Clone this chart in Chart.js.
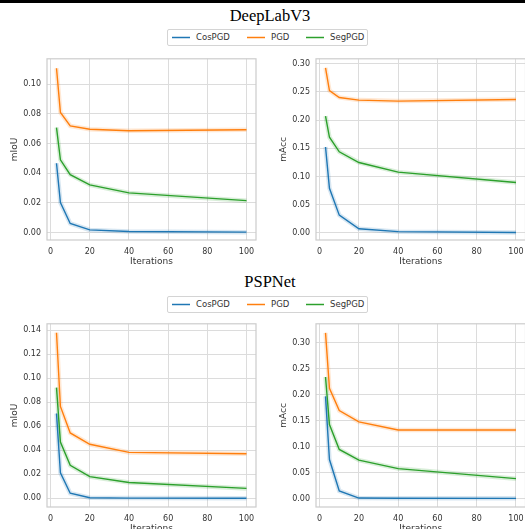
<!DOCTYPE html>
<html>
<head>
<meta charset="utf-8">
<script src="https://cdn.jsdelivr.net/npm/chart.js@4"></script>
<style>
  html, body { margin: 0; padding: 0; background: #fff; }
  body { width: 525px; height: 529px; overflow: hidden; position: relative; font-family: "DejaVu Sans", sans-serif; }
  canvas { position: absolute; }
  .rule { position: absolute; left: 0; top: 0; width: 525px; height: 3px; background: #000; }
  .title { position: absolute; left: 170px; width: 200px; text-align: center; font-family: "Liberation Serif", serif; font-size: 16.5px; color: #000; line-height: 20px; }
  .legend { position: absolute; left: 167px; width: 199px; height: 15px; border: 1px solid #d4d4d4; border-radius: 2px; background: #fff; }
  .leg-text { position: absolute; top: 0; font-size: 8.5px; line-height: 15px; color: #333; }
  .legend svg { position: absolute; left: 0; top: 0; }
</style>
</head>
<body>
<div class="rule"></div>

<div class="title" style="top:6px">DeepLabV3</div>
<div class="legend" style="top:29px">
  <svg width="199" height="15">
    <line x1="4" y1="7.5" x2="22" y2="7.5" stroke="#1f77b4" stroke-width="1.5"/>
    <line x1="79" y1="7.5" x2="97" y2="7.5" stroke="#ff7f0e" stroke-width="1.5"/>
    <line x1="138" y1="7.5" x2="156" y2="7.5" stroke="#2ca02c" stroke-width="1.5"/>
  </svg>
  <div class="leg-text" style="left:28px">CosPGD</div>
  <div class="leg-text" style="left:103px">PGD</div>
  <div class="leg-text" style="left:162px">SegPGD</div>
</div>

<div class="title" style="top:272px">PSPNet</div>
<div class="legend" style="top:296px">
  <svg width="199" height="15">
    <line x1="4" y1="7.5" x2="22" y2="7.5" stroke="#1f77b4" stroke-width="1.5"/>
    <line x1="79" y1="7.5" x2="97" y2="7.5" stroke="#ff7f0e" stroke-width="1.5"/>
    <line x1="138" y1="7.5" x2="156" y2="7.5" stroke="#2ca02c" stroke-width="1.5"/>
  </svg>
  <div class="leg-text" style="left:28px">CosPGD</div>
  <div class="leg-text" style="left:103px">PGD</div>
  <div class="leg-text" style="left:162px">SegPGD</div>
</div>

<canvas id="dlMiou" width="262" height="222" style="left:0;top:48px"></canvas>
<canvas id="dlMacc" width="270" height="222" style="left:262px;top:48px"></canvas>
<canvas id="pspMiou" width="262" height="224" style="left:0;top:313px"></canvas>
<canvas id="pspMacc" width="270" height="224" style="left:262px;top:313px"></canvas>

<script>
// attack iterations (x values)
const iterations = [3, 5, 10, 20, 40, 100];
const xTicks = [0, 20, 40, 60, 80, 100];

// DeepLabV3
const dlMiouCos = [0.0467, 0.0202, 0.0061, 0.0018, 0.0007, 0.0003];
const dlMiouPgd = [0.1106, 0.0809, 0.0718, 0.0696, 0.0686, 0.0692];
const dlMiouSeg = [0.0707, 0.0490, 0.0390, 0.0321, 0.0267, 0.0215];
const dlMaccCos = [0.1523, 0.0790, 0.0315, 0.0075, 0.0023, 0.0007];
const dlMaccPgd = [0.2926, 0.2520, 0.2400, 0.2353, 0.2336, 0.2365];
const dlMaccSeg = [0.2068, 0.1695, 0.1437, 0.1248, 0.1077, 0.0893];

// PSPNet
const pspMiouCos = [0.0707, 0.0213, 0.0043, 0.0005, 0.0002, 0.0001];
const pspMiouPgd = [0.1381, 0.0766, 0.0545, 0.0451, 0.0383, 0.0372];
const pspMiouSeg = [0.0923, 0.0469, 0.0275, 0.0181, 0.0132, 0.0083];
const pspMaccCos = [0.1970, 0.0750, 0.0144, 0.0008, 0.0003, 0.0002];
const pspMaccPgd = [0.3195, 0.2126, 0.1695, 0.1476, 0.1320, 0.1320];
const pspMaccSeg = [0.2344, 0.1425, 0.0945, 0.0738, 0.0576, 0.0382];

// y tick labels
const dlMiouTicks = [0.00, 0.02, 0.04, 0.06, 0.08, 0.10];
const dlMaccTicks = [0.00, 0.05, 0.10, 0.15, 0.20, 0.25, 0.30];
const pspMiouTicks = [0.00, 0.02, 0.04, 0.06, 0.08, 0.10, 0.12, 0.14];
const pspMaccTicks = [0.00, 0.05, 0.10, 0.15, 0.20, 0.25, 0.30];

const colors = { cos: '#1f77b4', pgd: '#ff7f0e', seg: '#2ca02c' };

Chart.defaults.font.family = '"DejaVu Sans", sans-serif';
Chart.defaults.color = '#333';

// draw the full box round the plot area like matplotlib spines
const framePlugin = {
  id: 'frame',
  afterDraw(chart) {
    const { ctx, chartArea: a } = chart;
    ctx.save();
    ctx.strokeStyle = '#cccccc';
    ctx.lineWidth = 1.2;
    ctx.strokeRect(a.left, a.top, a.right - a.left, a.bottom - a.top);
    ctx.restore();
  }
};

function toPoints(vals) {
  return iterations.map((x, i) => ({ x: x, y: vals[i] }));
}

function makeChart(id, yTitle, titleX, axisWidth, padRight, yMin, yMax, yTicks, cos, pgd, seg) {
  const datasets = [];
  [[cos, colors.cos], [pgd, colors.pgd], [seg, colors.seg]].forEach(([vals, color]) => {
    datasets.push({ data: toPoints(vals), borderColor: color, borderWidth: 1.4, pointRadius: 0, tension: 0, order: 1 });
    // faint band under each line
    datasets.push({ data: toPoints(vals), borderColor: color + '2e', borderWidth: 4.5, pointRadius: 0, tension: 0, order: 2 });
  });

  new Chart(document.getElementById(id), {
    type: 'line',
    data: { datasets: datasets },
    plugins: [framePlugin],
    options: {
      responsive: false,
      animation: false,
      events: [],
      layout: { padding: { top: 5, right: padRight, left: 0, bottom: 0 } },
      plugins: { legend: { display: false }, tooltip: { enabled: false } },
      scales: {
        x: {
          type: 'linear',
          min: -1.85,
          max: 104.85,
          afterBuildTicks: s => { s.ticks = xTicks.map(v => ({ value: v })); },
          afterFit: s => { s.height = 30; },
          ticks: { font: { size: 8 }, padding: 7.5, maxRotation: 0, color: '#333' },
          grid: { color: '#dcdcdc', lineWidth: 1, drawTicks: false },
          border: { display: false },
          title: { display: true, text: 'Iterations', font: { size: 9 }, color: '#333', padding: { top: 0, bottom: 2.6 } }
        },
        y: {
          type: 'linear',
          min: yMin,
          max: yMax,
          afterBuildTicks: s => { s.ticks = yTicks.map(v => ({ value: v })); },
          afterFit: s => { s.width = axisWidth; },
          ticks: { font: { size: 8 }, padding: 6, color: '#333', callback: v => v.toFixed(2) },
          grid: { color: '#dcdcdc', lineWidth: 1, drawTicks: false },
          border: { display: false },
          title: { display: true, text: yTitle, font: { size: 9 }, color: '#333', padding: { top: titleX - 5.4, bottom: 0 } }
        }
      }
    }
  });
}

makeChart('dlMiou', 'mIoU', 15, 47, 6, -0.005, 0.117, dlMiouTicks, dlMiouCos, dlMiouPgd, dlMiouSeg);
makeChart('dlMacc', 'mAcc', 22, 54, 6.5, -0.0125, 0.3085, dlMaccTicks, dlMaccCos, dlMaccPgd, dlMaccSeg);
makeChart('pspMiou', 'mIoU', 15, 47, 6, -0.0072, 0.1455, pspMiouTicks, pspMiouCos, pspMiouPgd, pspMiouSeg);
makeChart('pspMacc', 'mAcc', 22, 54, 6.5, -0.0165, 0.337, pspMaccTicks, pspMaccCos, pspMaccPgd, pspMaccSeg);
</script>
</body>
</html>
